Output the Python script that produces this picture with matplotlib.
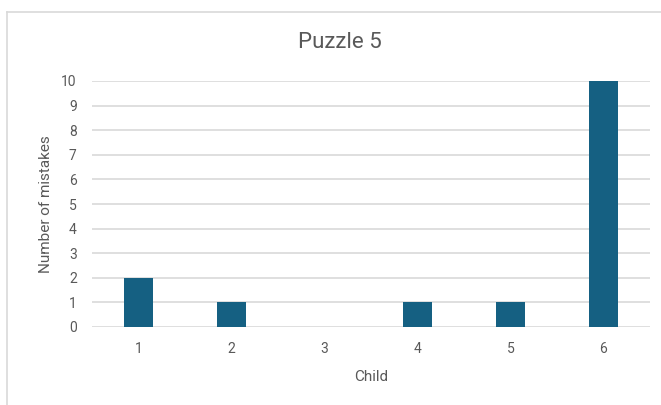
import matplotlib
matplotlib.use("Agg")
import matplotlib.pyplot as plt
from matplotlib.lines import Line2D
from matplotlib import font_manager

children = ["1", "2", "3", "4", "5", "6"]
mistakes = [2, 1, 0, 1, 1, 10]
y_ticks = list(range(0, 11))

names = {f.name for f in font_manager.fontManager.ttflist}
family = ["Liberation Sans Narrow", "DejaVu Sans"] if "Liberation Sans Narrow" in names else ["Roboto", "DejaVu Sans"]
plt.rcParams["font.family"] = family

text_color = "#595959"
grid_color = "#D9D9D9"
bar_color = "#156082"

W, H = 661, 405
fig = plt.figure(figsize=(W / 100, H / 100), dpi=100)

ax = fig.add_axes([92 / W, 1 - 327 / H, (650 - 92) / W, (327 - 81) / H])
x = list(range(len(children)))
ax.bar(x, mistakes, width=0.31, color=bar_color, zorder=3)
ax.set_xlim(-0.5, len(children) - 0.5)
ax.set_ylim(0, 10)
ax.set_yticks(y_ticks)
ax.set_xticks(x)
ax.set_xticklabels(children)
for s in ax.spines.values():
    s.set_visible(False)
ax.grid(axis="y", color=grid_color, linewidth=1.2, zorder=0)
ax.set_axisbelow(True)
ax.tick_params(length=0, colors=text_color, labelsize=10)
ax.tick_params(axis="y", pad=11)
ax.tick_params(axis="x", pad=11)
ax.set_xlabel("Child", color=text_color, fontsize=11, labelpad=10)
ax.set_ylabel("Number of mistakes", color=text_color, fontsize=11, labelpad=6)

# Title centred over the whole chart area
fig.text(340 / W, 1 - 43 / H, "Puzzle 5", color=text_color, fontsize=16,
         ha="center", va="center")

# Chart-area frame along the top and left edges
fig.add_artist(Line2D([7 / W, 1], [1 - 12 / H, 1 - 12 / H], color=grid_color, linewidth=1.2))
fig.add_artist(Line2D([7 / W, 7 / W], [0, 1 - 12 / H], color=grid_color, linewidth=1.2))

fig.savefig("out.png", dpi=100)
